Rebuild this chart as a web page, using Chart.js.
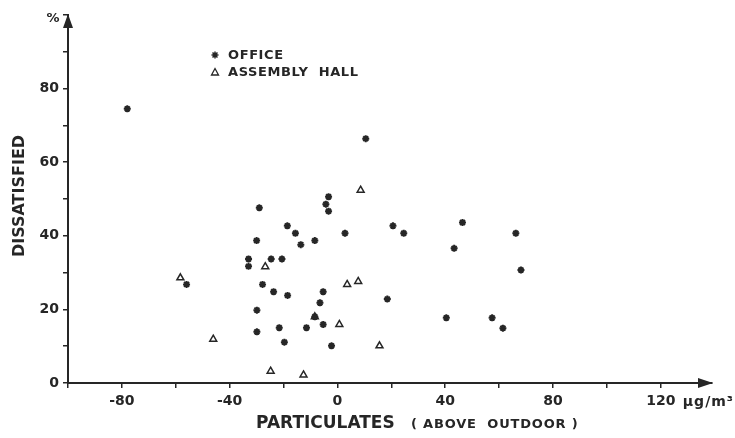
<!DOCTYPE html>
<html lang="en">

<head>
  <meta charset="UTF-8">
  <title>Dissatisfied vs particulates</title>
  <style>
    body { margin: 0; background: #fff; }
  </style>
</head>

<body>
  <script src="https://cdn.jsdelivr.net/npm/chart.js"></script>

  <canvas id="scatterChart" width="735" height="438"></canvas>
  <script>
    // particulates above outdoor (ug/m3) vs % dissatisfied
    const officeX = [-78, -56, -29, -30, -33, -33, -24.6, -20.6, -18.6, -15.6, -13.6, -8.4, -3.3, -4.3, -3.3, 2.8,
      -27.8, -23.7, -18.5, -29.9, -29.9, -21.6, -19.7, -11.5, -5.3, -6.5, -8.4, -5.3, -2.2,
      10.5, 20.6, 24.6, 46.4, 43.3, 66.2, 68.1, 18.5, 40.4, 57.4, 61.4];
    const officeY = [74.5, 26.8, 47.6, 38.7, 33.7, 31.7, 33.7, 33.7, 42.7, 40.7, 37.6, 38.7, 50.6, 48.6, 46.7, 40.7,
      26.8, 24.8, 23.8, 19.8, 13.9, 15.0, 11.1, 15.0, 24.8, 21.8, 18.0, 15.9, 10.1,
      66.4, 42.7, 40.7, 43.6, 36.6, 40.7, 30.7, 22.8, 17.7, 17.7, 14.9];
    const hallX = [-58.3, -46.1, -26.8, -8.4, 0.7, 3.6, 7.7, 8.6, 15.6, -24.8, -12.6];
    const hallY = [28.6, 11.9, 31.6, 18.0, 15.9, 26.8, 27.6, 52.4, 10.1, 3.2, 2.2];

    const xTickLabels = [-80, -40, 0, 40, 80, 120];
    const yTickLabels = [0, 20, 40, 60, 80];

    const ink = '#262626';
    const fam = '"DejaVu Sans"';
    const tickFont = { family: 'DejaVu Sans', size: 14, weight: 'bold' };

    const toPoints = (xs, ys) => xs.map((x, i) => ({ x: x, y: ys[i] }));

    // axis arrows, titles and the little legend
    const extras = {
      id: 'extras',
      afterDraw(chart) {
        const c = chart.ctx;
        const area = chart.chartArea;
        const xs = chart.scales.x;
        c.save();
        c.fillStyle = ink;
        c.strokeStyle = ink;
        // arrow heads
        c.beginPath();
        c.moveTo(area.right + 1, area.bottom);
        c.lineTo(area.right - 14, area.bottom - 5);
        c.lineTo(area.right - 14, area.bottom + 5);
        c.closePath();
        c.fill();
        c.beginPath();
        c.moveTo(area.left, area.top - 1);
        c.lineTo(area.left - 5, area.top + 13);
        c.lineTo(area.left + 5, area.top + 13);
        c.closePath();
        c.fill();

        c.textBaseline = 'middle';
        c.font = 'bold 13px ' + fam;
        c.textAlign = 'center';
        c.fillText('%', 53, 19);

        // unit after the 120 tick
        c.textAlign = 'left';
        c.font = 'bold 14px ' + fam;
        c.letterSpacing = '1px';
        c.fillText('\u03bcg/m\u00b3', xs.getPixelForValue(120) + 22, 402);

        // x title
        c.letterSpacing = '0px';
        c.font = 'bold 17px ' + fam;
        c.fillText('PARTICULATES', 256, 424);
        c.letterSpacing = '0.8px';
        c.font = 'bold 13px ' + fam;
        c.fillText('( ABOVE  OUTDOOR )', 411, 425);

        // y title
        c.save();
        c.translate(20, 196);
        c.rotate(-Math.PI / 2);
        c.textAlign = 'center';
        c.letterSpacing = '0px';
        c.font = 'bold 16px ' + fam;
        c.fillText('DISSATISFIED', 0, 0);
        c.restore();

        // legend
        c.font = 'bold 13px ' + fam;
        c.letterSpacing = '0.6px';
        c.textAlign = 'left';
        c.fillText('OFFICE', 228, 56);
        c.fillText('ASSEMBLY  HALL', 228, 73);
        c.letterSpacing = '0px';
        // star marker
        c.lineWidth = 1.5;
        c.beginPath();
        for (let k = 0; k < 4; k++) {
          const a = k * Math.PI / 4;
          c.moveTo(215 - 3.5 * Math.cos(a), 55 - 3.5 * Math.sin(a));
          c.lineTo(215 + 3.5 * Math.cos(a), 55 + 3.5 * Math.sin(a));
        }
        c.stroke();
        // open triangle marker
        c.lineWidth = 1.3;
        c.beginPath();
        c.moveTo(215, 68.5);
        c.lineTo(218.5, 75);
        c.lineTo(211.5, 75);
        c.closePath();
        c.stroke();
        c.restore();
      }
    };

    const ctx = document.getElementById('scatterChart').getContext('2d');
    const scatterChart = new Chart(ctx, {
      type: 'scatter',
      data: {
        datasets: [{
          label: 'OFFICE',
          data: toPoints(officeX, officeY),
          pointStyle: 'star',
          radius: 3.5,
          borderWidth: 2,
          borderColor: ink,
          backgroundColor: ink
        }, {
          label: 'ASSEMBLY HALL',
          data: toPoints(hallX, hallY),
          pointStyle: 'triangle',
          radius: 4,
          borderWidth: 1.5,
          borderColor: ink,
          backgroundColor: '#fff'
        }]
      },
      options: {
        responsive: false,
        animation: false,
        layout: { padding: { left: 0, top: 15, right: 23, bottom: 0 } },
        plugins: {
          legend: { display: false },
          tooltip: { enabled: false }
        },
        scales: {
          x: {
            type: 'linear',
            min: -100,
            max: 139,
            afterFit: s => { s.height = 55; },
            border: { display: true, color: ink, width: 2 },
            grid: { drawOnChartArea: false, tickLength: 5, color: ink, lineWidth: 1.5 },
            ticks: {
              stepSize: 20,
              includeBounds: false,
              autoSkip: false,
              maxRotation: 0,
              padding: 5,
              color: ink,
              font: tickFont,
              callback: v => xTickLabels.includes(v) ? String(v) : ''
            }
          },
          y: {
            min: 0,
            max: 100,
            afterFit: s => { s.width = 68; },
            border: { display: true, color: ink, width: 2 },
            grid: { drawOnChartArea: false, tickLength: 5, color: ink, lineWidth: 1.5 },
            ticks: {
              stepSize: 10,
              includeBounds: false,
              autoSkip: false,
              padding: 4,
              color: ink,
              font: tickFont,
              callback: v => yTickLabels.includes(v) ? String(v) : ''
            }
          }
        }
      },
      plugins: [extras]
    });
  </script>
</body>

</html>
